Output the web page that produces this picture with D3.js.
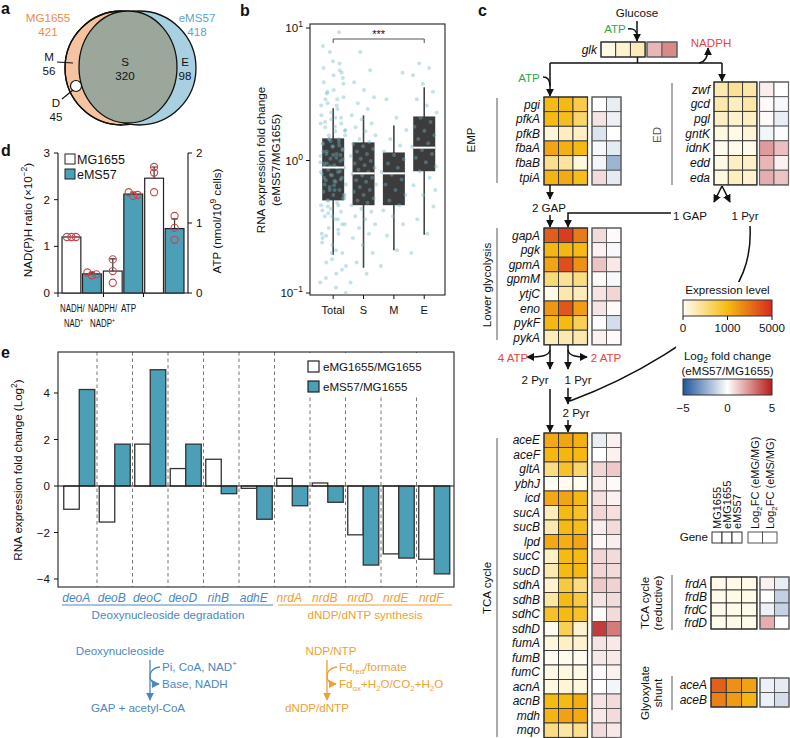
<!DOCTYPE html>
<html><head><meta charset="utf-8">
<script src="https://cdn.jsdelivr.net/npm/d3@7"></script>
<style>body{margin:0;background:#fff}svg{font-family:"Liberation Sans",Arial,Helvetica,sans-serif}</style>
</head><body>
<script>
// ================= DATA =================
// panel a
const vennSets = ["MG1655", "eMS57"];
const vennTotals = [421, 418];
const vennRegions = ["S", "M", "D", "E"];
const vennCounts = [320, 56, 45, 98];
// panel b
const bGroups = ["Total", "S", "M", "E"];
const bQ1 = [0.50, 0.46, 0.46, 0.83];
const bMed = [0.885, 0.80, 0.80, 1.25];
const bQ3 = [1.47, 1.37, 1.15, 2.15];
const bLo = [0.194, 0.155, 0.21, 0.275];
const bHi = [2.48, 2.19, 1.84, 3.57];
const bPtsS = [0.12,0.14,0.17,0.2,0.23,0.26,0.28,0.31,0.33,0.36,0.38,0.41,0.43,0.46,0.48,0.5,0.52,0.55,0.58,0.6,0.63,0.66,0.69,0.71,0.74,0.77,0.79,0.82,0.85,0.88,0.92,0.95,0.99,1.03,1.08,1.12,1.17,1.22,1.28,1.33,1.38,1.45,1.55,1.66,1.78,1.9,2.05,2.2,2.45,2.7,3.0,3.4,3.9,4.8,6.6];
const bPtsM = [0.16,0.21,0.27,0.33,0.38,0.42,0.46,0.5,0.55,0.6,0.66,0.72,0.78,0.82,0.88,0.95,1.02,1.1,1.17,1.3,1.45,1.7,2.1,2.9,4.6];
const bPtsE = [0.2,0.28,0.36,0.45,0.55,0.65,0.74,0.83,0.9,0.97,1.05,1.12,1.2,1.27,1.35,1.45,1.55,1.68,1.8,1.95,2.1,2.3,2.6,2.9,3.3,3.8,4.4,5.0,5.4,0.6];
const bPtsOther = [0.1,0.11,0.13,0.15,0.18,0.24,0.3,0.4,0.52,0.7,0.9,1.1,1.4,1.9,2.6,3.2,4.2,5.6,7.3,9.3];
const bPtsTotal = bPtsS.concat(bPtsM, bPtsE, bPtsOther);
const bYTicks = [0.1, 1, 10];
// panel d
const dGroups = ["NADH/NAD+", "NADPH/NADP+", "ATP"];
const dStrains = ["MG1655", "eMS57"];
const dMG = [1.2, 0.47, 1.64];
const dEMS = [0.41, 2.12, 0.92];
const dMGerr = [0, 0.26, 0.16];
const dEMSerr = [0.03, 0.04, 0.14];
const dMGpts = [[1.2, 1.2, 1.2], [0.72, 0.22, 0.47], [1.8, 1.72, 1.44]];
const dEMSpts = [[0.44, 0.38, 0.4], [2.16, 2.08, 2.1], [1.1, 0.93, 0.76]];
// panel e
const eGenes = ["deoA","deoB","deoC","deoD","rihB","adhE","nrdA","nrdB","nrdD","nrdE","nrdF"];
const eSeries = ["eMG1655/MG1655", "eMS57/MG1655"];
const eMG = [-1.0, -1.55, 1.8, 0.75, 1.15, -0.1, 0.33, 0.13, -2.1, -2.92, -3.15];
const eMS = [4.15, 1.8, 5.0, 1.8, -0.33, -1.43, -0.85, -0.7, -3.4, -3.1, -3.78];
const eTicks = [-4, -2, 0, 2, 4];
// panel c
const samples = ["MG1655", "eMG1655", "eMS57"];
const fcCols = ["Log2FC (eMG/MG)", "Log2FC (eMS/MG)"];
const glkGenes = ["glk"];
const glkExpr = [[60, 160, 260]];
const glkFC = [[1.6, 2.6]];
const empGenes = ["pgi","pfkA","pfkB","fbaA","fbaB","tpiA"];
const empExpr = [[1000,1050,750],[1000,950,600],[120,220,200],[1600,1300,1000],[450,380,80],[1200,1450,950]];
const empFC = [[0,-0.5],[0.6,-0.4],[-0.8,0],[-0.2,-0.6],[-0.3,-2.2],[0.8,-0.6]];
const edGenes = ["zwf","gcd","pgl","gntK","idnK","edd","eda"];
const edExpr = [[300,420,330],[320,230,330],[200,170,210],[70,50,120],[20,30,40],[60,210,190],[80,230,160]];
const edFC = [[0.4,0],[0.1,-0.2],[0.1,-0.5],[-0.3,-0.1],[2.2,1.4],[1.6,0.3],[1.8,1.3]];
const lowGenes = ["gapA","pgk","gpmA","gpmM","ytjC","eno","pykF","pykA"];
const lowExpr = [[3600,4500,2800],[1150,1100,1000],[1600,4000,2200],[550,420,500],[50,320,260],[2000,3800,1800],[1100,1000,700],[250,300,320]];
const lowFC = [[0.8,0.1],[0.3,-0.2],[1.3,0.5],[0.1,-0.2],[0.6,0.9],[0.6,0.1],[-0.1,-1.0],[0.3,0.1]];
const tcaGenes = ["aceE","aceF","gltA","ybhJ","icd","sucA","sucB","lpd","sucC","sucD","sdhA","sdhB","sdhC","sdhD","fumA","fumB","fumC","acnA","acnB","mdh","mqo"];
const tcaExpr = [[1500,1600,1300],[1100,1150,1050],[500,900,600],[10,20,15],[1500,1600,1100],[250,1000,900],[300,1000,950],[1500,1300,1600],[200,1000,1000],[300,1000,1050],[150,800,500],[350,1000,800],[900,1000,900],[20,700,150],[100,200,150],[20,30,20],[60,80,60],[80,120,100],[1000,1000,1400],[1200,1700,1500],[500,350,450]];
const tcaFC = [[-0.5,0.3],[0,0.3],[0.9,1.2],[0.4,0.1],[0.7,0.3],[0.9,0.7],[0.4,0.8],[0.2,0.4],[0.9,0.8],[0.9,0.8],[1.2,1.0],[0.6,0.8],[0.1,0.8],[4.3,2.9],[0.6,0.5],[0.5,0.5],[0.1,0.3],[0,-0.3],[0.6,0.8],[0.5,0.8],[0.8,0.5]];
const frdGenes = ["frdA","frdB","frdC","frdD"];
const frdExpr = [[40,50,45],[40,50,45],[35,55,40],[30,60,30]];
const frdFC = [[0.3,-0.5],[0,-1.4],[-0.4,-1.3],[1.8,0]];
const glxGenes = ["aceA","aceB"];
const glxExpr = [[3500,2200,1700],[2600,1900,1200]];
const glxFC = [[-0.4,-0.6],[-0.4,-1.0]];
const exprLegendTicks = [0, 1000, 5000];
const fcLegendTicks = [-5, 0, 5];

// ================= DRAW =================
const FS = 11.6;
const TEAL = "#4b9fb7";
const svg = d3.select("body").append("svg").attr("width", 790).attr("height", 738);
const defs = svg.append("defs");
function mk(id, color) {
  defs.append("marker").attr("id", id).attr("viewBox", "0 0 10 10").attr("refX", 9).attr("refY", 5)
    .attr("markerWidth", 8).attr("markerHeight", 8).attr("markerUnits", "userSpaceOnUse").attr("orient", "auto")
    .append("path").attr("d", "M0,0L10,5L0,10z").attr("fill", color);
}
mk("ak", "#111"); mk("ab", "#4a87c4"); mk("ao", "#f0a030");

function txt(x, y, s, o = {}) {
  const t = svg.append("text").attr("x", x).attr("y", y).attr("font-size", o.fs || FS)
    .attr("fill", o.fill || "#111").attr("text-anchor", o.anchor || "start");
  if (o.italic) t.attr("font-style", "italic");
  if (o.bold) t.attr("font-weight", "bold");
  if (o.rot) t.attr("transform", `rotate(${o.rot},${x},${y})`);
  if (o.sx) t.attr("x", 0).attr("y", 0).attr("transform", `translate(${x},${y}) scale(${o.sx},1)`);
  t.html(s);
  return t;
}
function line(d, o = {}) {
  const p = svg.append("path").attr("d", d).attr("fill", "none").attr("stroke", o.stroke || "#111").attr("stroke-width", o.sw || 1.5);
  if (o.arrow) p.attr("marker-end", `url(#${o.arrow})`);
  if (o.dash) p.attr("stroke-dasharray", o.dash);
  return p;
}
// panel labels
[["a",1,14],["b",240,16],["c",478,16],["d",1,156],["e",1,358]].forEach(([l,x,y]) => txt(x, y, l, {bold: true, fs: 16}));

// ---------- panel a ----------
svg.append("ellipse").attr("cx", 122).attr("cy", 68).attr("rx", 57).attr("ry", 57).attr("fill", "#f6c3a0").attr("stroke", "#111").attr("stroke-width", 1.3);
svg.append("ellipse").attr("cx", 139).attr("cy", 68).attr("rx", 57).attr("ry", 57).attr("fill", "#a9d0e1").attr("stroke", "#111").attr("stroke-width", 1.3);
svg.append("path").attr("d", "M122,11 A57,57 0 0,0 122,125").attr("fill", "none").attr("stroke", "#111").attr("stroke-width", 1.3);
svg.append("ellipse").attr("cx", 128).attr("cy", 67).attr("rx", 49).attr("ry", 56).attr("fill", "#9ca79c").attr("stroke", "#111").attr("stroke-width", 1.3);
svg.append("circle").attr("cx", 76).attr("cy", 86).attr("r", 5.5).attr("fill", "#fff").attr("stroke", "#111").attr("stroke-width", 1.2);
line("M57,62L73,63", {sw: 1.1});
line("M62,99L73,90", {sw: 1.1});
txt(48, 22, vennSets[0], {anchor: "middle", fill: "#ec8a4c"});
txt(48, 36, vennTotals[0], {anchor: "middle", fill: "#ec8a4c"});
txt(197, 22, vennSets[1], {anchor: "middle", fill: "#5aa6c8"});
txt(197, 36, vennTotals[1], {anchor: "middle", fill: "#5aa6c8"});
const vennPos = [[125, 66], [49, 61], [56, 107], [185, 66]];
vennRegions.forEach((r, i) => {
  txt(vennPos[i][0], vennPos[i][1], r, {anchor: "middle"});
  txt(vennPos[i][0], vennPos[i][1] + 14, vennCounts[i], {anchor: "middle"});
});

// ---------- panel b ----------
const yB = d3.scaleLog().domain([0.1, 10]).range([293, 28]);
const xB = d3.scaleBand().domain(bGroups).range([318, 439.4]);
const cB = g => xB(g) + xB.bandwidth() / 2;
svg.append("rect").attr("x", 310).attr("y", 24).attr("width", 135).attr("height", 271).attr("fill", "none").attr("stroke", "#222").attr("stroke-width", 1.1);
bYTicks.forEach((v, i) => {
  line(`M306,${yB(v)}H310`, {sw: 1});
  const e = [-1, 0, 1][i];
  txt(303, yB(v) + 4, `10<tspan dy="-5" font-size="8.5">${e < 0 ? "\u22121" : e}</tspan>`, {anchor: "end"});
});
const bPtsAll = [bPtsTotal, bPtsS, bPtsM, bPtsE];
bGroups.forEach((g, i) => {
  const c = cB(g);
  line(`M${c},${yB(bLo[i])}V${yB(bHi[i])}`, {stroke: "#444", sw: 1.6});
  svg.append("rect").attr("x", c - 11).attr("y", yB(bQ3[i])).attr("width", 22).attr("height", yB(bQ1[i]) - yB(bQ3[i])).attr("fill", "#3c3c3c");
  line(`M${c},295V299`, {sw: 1});
  txt(c, 314, g, {anchor: "middle", fs: 11});
});
bGroups.forEach((g, i) => {
  const c = cB(g);
  svg.append("g").selectAll("circle").data(bPtsAll[i]).join("circle")
    .attr("cx", (d, k) => c + (((k * 0.6180339887) % 1) - 0.5) * 26)
    .attr("cy", d => yB(d)).attr("r", 2).attr("fill", "#6db3c9").attr("opacity", 0.4);
});
bGroups.forEach((g, i) => {
  const c = cB(g);
  line(`M${c - 11},${yB(bMed[i])}H${c + 11}`, {stroke: "#fff", sw: 2});
});
line(`M${cB("Total")},43V39H${cB("E")}V43`, {stroke: "#555", sw: 1});
txt((cB("Total") + cB("E")) / 2, 38, "***", {anchor: "middle", fs: 11});
txt(265, 160, "RNA expression fold change", {anchor: "middle", rot: -90});
txt(280, 160, "(eMS57/MG1655)", {anchor: "middle", rot: -90});

// ---------- panel d ----------
const yD = d3.scaleLinear().domain([0, 3]).range([293, 153]);
const yD2 = d3.scaleLinear().domain([0, 2]).range([293, 153]);
const xD = d3.scaleBand().domain(dGroups).range([61, 185]);
const xDi = d3.scaleBand().domain(dStrains).range([0, xD.bandwidth()]).paddingInner(0.08).paddingOuter(0.05);
line("M58,153V293H188V153", {sw: 1.1});
d3.range(0, 4).forEach(v => { line(`M54,${yD(v)}H58`, {sw: 1}); txt(50, yD(v) + 4, v, {anchor: "end"}); });
d3.range(0, 3).forEach(v => { line(`M188,${yD2(v)}H192`, {sw: 1}); txt(196, yD2(v) + 4, v); });
[58, 103.5, 143.5].forEach(x => line(`M${x},293V297`, {sw: 1}));
dGroups.forEach((g, i) => {
  const ys = i === 2 ? yD2 : yD;
  [[dMG, dMGerr, dMGpts, "#fff"], [dEMS, dEMSerr, dEMSpts, TEAL]].forEach(([vals, errs, pts, fill], s) => {
    const x = xD(g) + xDi(dStrains[s]);
    const w = xDi.bandwidth();
    const cx = x + w / 2;
    if (errs[i] > 0) line(`M${cx},${ys(vals[i])}V${ys(vals[i] + errs[i])}M${cx - 3},${ys(vals[i] + errs[i])}H${cx + 3}`, {sw: 1.2, stroke: "#333"});
    svg.append("rect").attr("x", x).attr("y", ys(vals[i])).attr("width", w).attr("height", 293 - ys(vals[i]))
      .attr("fill", fill).attr("stroke", "#222").attr("stroke-width", 1.2);
    const sorted = pts[i];
    sorted.forEach((p, k) => {
      let dx = 0;
      const dup = sorted.filter((q, m) => m !== k && Math.abs(ys(q) - ys(p)) < 5);
      if (dup.length >= 2) dx = (k - 1) * 4.5; else if (dup.length === 1) dx = (k % 2 ? 3 : -3);
      svg.append("circle").attr("cx", cx + dx).attr("cy", ys(p)).attr("r", 3.6).attr("fill", "none").attr("stroke", "#c8464a").attr("stroke-width", 1.1);
    });
  });
});
svg.append("rect").attr("x", 65).attr("y", 154).attr("width", 10).attr("height", 10).attr("fill", "#fff").attr("stroke", "#222");
svg.append("rect").attr("x", 65).attr("y", 169).attr("width", 10).attr("height", 10).attr("fill", TEAL).attr("stroke", "#222");
txt(77, 164, dStrains[0], {fs: 12.5});
txt(77, 179, dStrains[1], {fs: 12.5});
txt(60, 312, "NADH/", {sx: 0.72, fs: 11});
txt(64, 327, "NAD<tspan dy='-4' font-size='7'>+</tspan>", {sx: 0.7, fs: 11});
txt(88, 312, "NADPH/", {sx: 0.7, fs: 11});
txt(90, 327, "NADP<tspan dy='-4' font-size='7'>+</tspan>", {sx: 0.72, fs: 11});
txt(121, 312, "ATP", {sx: 0.74, fs: 11});
txt(32, 220, "NAD(P)H ratio (\u00d710<tspan dy='-5' font-size='8.5'>\u22122</tspan><tspan dy='5'>)</tspan>", {anchor: "middle", rot: -90});
txt(221, 221, "ATP (nmol/10<tspan dy='-5' font-size='8.5'>9</tspan><tspan dy='5'> cells)</tspan>", {anchor: "middle", rot: -90});

// ---------- panel e ----------
const yE = d3.scaleLinear().domain([-4, 4]).range([579, 393]);
const xE = d3.scaleBand().domain(eGenes).range([61.5, 452]);
const cE = g => xE(g) + xE.bandwidth() / 2;
eGenes.forEach((g, i) => { if (i > 0) line(`M${xE(g)},352V587`, {stroke: "#777", sw: 1, dash: "3.5,3"}); });
svg.append("rect").attr("x", 300).attr("y", 353).attr("width", 153).attr("height", 43).attr("fill", "#fff");
eGenes.forEach((g, i) => {
  const c = cE(g);
  [[eMG, "#fff", c - 15.5], [eMS, TEAL, c]].forEach(([vals, fill, x]) => {
    const v = vals[i];
    svg.append("rect").attr("x", x).attr("y", yE(Math.max(0, v))).attr("width", 15.5).attr("height", Math.abs(yE(v) - yE(0)))
      .attr("fill", fill).attr("stroke", "#333").attr("stroke-width", 1.3);
  });
});
line(`M58,${yE(0)}H454`, {sw: 1.2});
svg.append("rect").attr("x", 58).attr("y", 352).attr("width", 396).attr("height", 235).attr("fill", "none").attr("stroke", "#222").attr("stroke-width", 1.1);
eTicks.forEach(v => {
  line(`M54,${yE(v)}H58`, {sw: 1});
  txt(50, yE(v) + 4, v < 0 ? "\u2212" + (-v) : v, {anchor: "end"});
});
svg.append("rect").attr("x", 308).attr("y", 361).attr("width", 11).attr("height", 11).attr("fill", "#fff").attr("stroke", "#222").attr("stroke-width", 1.2);
svg.append("rect").attr("x", 308).attr("y", 381).attr("width", 11).attr("height", 11).attr("fill", TEAL).attr("stroke", "#222").attr("stroke-width", 1.2);
txt(323, 371, eSeries[0]);
txt(323, 391, eSeries[1]);
txt(22, 470, "RNA expression fold change (Log<tspan dy='-5' font-size='8.5'>2</tspan><tspan dy='5'>)</tspan>", {anchor: "middle", rot: -90});
const BLUE = "#4a87c4", ORANGE = "#f0a030";
eGenes.forEach((g, i) => txt(cE(g) - 3, 602, g, {anchor: "middle", italic: true, fill: i < 6 ? BLUE : ORANGE, fs: 12}));
line("M62,605H273", {stroke: BLUE, sw: 1.2});
line("M278,605H452", {stroke: ORANGE, sw: 1.2});
txt(168, 619, "Deoxynucleoside degradation", {anchor: "middle", fill: BLUE});
txt(365, 619, "dNDP/dNTP synthesis", {anchor: "middle", fill: ORANGE});
// pathway sketches
txt(120, 655, "Deoxynucleoside", {anchor: "middle", fill: BLUE});
line("M150,660V700", {stroke: BLUE, sw: 1.3, arrow: "ab"});
line("M160,667C151,668 150,674 150,676C150,680 152,684 159,684", {stroke: BLUE, sw: 1.3, arrow: "ab"});
txt(162, 671, "Pi, CoA, NAD<tspan dy='-5' font-size='8'>+</tspan>", {fill: BLUE});
txt(162, 688, "Base, NADH", {fill: BLUE});
txt(138, 712, "GAP + acetyl-CoA", {anchor: "middle", fill: BLUE});
txt(331, 655, "NDP/NTP", {anchor: "middle", fill: ORANGE});
line("M327,660V700", {stroke: ORANGE, sw: 1.3, arrow: "ao"});
line("M337,667C328,668 327,674 327,676C327,680 329,684 336,684", {stroke: ORANGE, sw: 1.3, arrow: "ao"});
txt(339, 671, "Fd<tspan dy='3' font-size='8'>red</tspan><tspan dy='-3'>/formate</tspan>", {fill: ORANGE});
txt(339, 688, "Fd<tspan dy='3' font-size='8'>ox</tspan><tspan dy='-3'>+H</tspan><tspan dy='3' font-size='8'>2</tspan><tspan dy='-3'>O/CO</tspan><tspan dy='3' font-size='8'>2</tspan><tspan dy='-3'>+H</tspan><tspan dy='3' font-size='8'>2</tspan><tspan dy='-3'>O</tspan>", {fill: ORANGE});
txt(317, 712, "dNDP/dNTP", {anchor: "middle", fill: ORANGE});

// ---------- panel c ----------
const exprColor = d3.scaleLinear().domain([0, 1000, 5000]).range(["#fffdf3", "#f6bb12", "#d62b1f"]);
const fcColor = d3.scaleLinear().domain([-5, 0, 5]).range(["#21569a", "#ffffff", "#b71c1c"]);
function heat(genes, expr, fc, o) {
  const g = svg.append("g");
  const y = d3.scaleBand().domain(genes).range([o.y0, o.y0 + genes.length * o.rh]);
  const xe = d3.scaleBand().domain(samples).range([o.x0, o.x0 + 3 * o.cw]);
  const xf = d3.scaleBand().domain(fcCols).range([o.fx0, o.fx0 + 2 * o.fcw]);
  genes.forEach((gn, i) => {
    g.append("g").selectAll("rect").data(expr[i]).join("rect")
      .attr("x", (d, j) => xe(samples[j])).attr("y", y(gn)).attr("width", xe.bandwidth()).attr("height", y.bandwidth())
      .attr("fill", d => exprColor(d)).attr("stroke", "#333").attr("stroke-width", 0.9);
    g.append("g").selectAll("rect").data(fc[i]).join("rect")
      .attr("x", (d, j) => xf(fcCols[j])).attr("y", y(gn)).attr("width", xf.bandwidth()).attr("height", y.bandwidth())
      .attr("fill", d => fcColor(d)).attr("stroke", "#555").attr("stroke-width", 0.9);
    txt(o.x0 - 4, y(gn) + y.bandwidth() / 2 + 4.2, gn, {anchor: "end", italic: true, fs: 12});
  });
  g.append("rect").attr("x", o.x0).attr("y", o.y0).attr("width", 3 * o.cw).attr("height", genes.length * o.rh).attr("fill", "none").attr("stroke", "#333").attr("stroke-width", 1.2);
  g.append("rect").attr("x", o.fx0).attr("y", o.y0).attr("width", 2 * o.fcw).attr("height", genes.length * o.rh).attr("fill", "none").attr("stroke", "#666").attr("stroke-width", 1.2);
}
heat(glkGenes, glkExpr, glkFC, {x0: 601, cw: 14.7, fx0: 647, fcw: 15, y0: 42, rh: 15});
heat(empGenes, empExpr, empFC, {x0: 544, cw: 14.5, fx0: 592, fcw: 14.5, y0: 97, rh: 14.65});
heat(edGenes, edExpr, edFC, {x0: 714, cw: 14.3, fx0: 759.5, fcw: 14.5, y0: 82, rh: 14.7});
heat(lowGenes, lowExpr, lowFC, {x0: 544, cw: 14.5, fx0: 592, fcw: 14.5, y0: 228, rh: 14.6});
heat(tcaGenes, tcaExpr, tcaFC, {x0: 544, cw: 14.5, fx0: 592, fcw: 14.5, y0: 433, rh: 14.5});
heat(frdGenes, frdExpr, frdFC, {x0: 711, cw: 15.3, fx0: 760, fcw: 14.5, y0: 577, rh: 13});
heat(glxGenes, glxExpr, glxFC, {x0: 711, cw: 15.3, fx0: 760, fcw: 14.5, y0: 678, rh: 14.5});
// gene key
txt(708, 541, "Gene", {anchor: "end"});
const xk = d3.scaleBand().domain(samples).range([712, 742]);
const xkf = d3.scaleBand().domain(fcCols).range([748, 777]);
samples.forEach(s => svg.append("rect").attr("x", xk(s)).attr("y", 532).attr("width", xk.bandwidth()).attr("height", 11).attr("fill", "#fff").attr("stroke", "#333"));
fcCols.forEach(s => svg.append("rect").attr("x", xkf(s)).attr("y", 532).attr("width", xkf.bandwidth()).attr("height", 11).attr("fill", "#fff").attr("stroke", "#555"));
samples.forEach(s => txt(xk(s) + xk.bandwidth() / 2 + 4, 529, s, {rot: -90, fs: 11}));
fcCols.forEach(s => txt(xkf(s) + xkf.bandwidth() / 2 + 4, 529, s.replace("Log2", "Log<tspan dy='3' font-size='8'>2</tspan><tspan dy='-3'>") + "</tspan>", {rot: -90, fs: 11}));
// group labels
txt(475, 140, "EMP", {anchor: "middle", rot: -90});
line("M497,98V183", {stroke: "#666", sw: 1.1});
txt(491, 285, "Lower glycolysis", {anchor: "middle", rot: -90});
line("M497,228V340", {stroke: "#666", sw: 1.1});
txt(491, 588, "TCA cycle", {anchor: "middle", rot: -90});
line("M497,438V737", {stroke: "#666", sw: 1.1});
txt(661, 135, "ED", {anchor: "middle", rot: -90, fill: "#555"});
line("M672,83V185", {stroke: "#666", sw: 1.1});
txt(649, 603, "TCA cycle", {anchor: "middle", rot: -90});
txt(662, 603, "(reductive)", {anchor: "middle", rot: -90});
line("M672,575V630", {stroke: "#666", sw: 1.1});
txt(649, 693, "Glyoxylate", {anchor: "middle", rot: -90});
txt(662, 693, "shunt", {anchor: "middle", rot: -90});
line("M672,676V710", {stroke: "#666", sw: 1.1});
// pathway arrows
txt(637, 17, "Glucose", {anchor: "middle"});
line("M637,21V41", {arrow: "ak"});
txt(615, 33, "ATP", {anchor: "middle", fill: "#2fa84a"});
line("M628,29C634,28 637,31 637,36");
line("M637.5,57V63M550,63H722");
line("M550,63V96", {arrow: "ak"});
txt(529, 82, "ATP", {anchor: "middle", fill: "#2fa84a"});
line("M543,77C548,77 550,80 550,86");
line("M722,63V81", {arrow: "ak"});
line("M699,63C705,62 708,57 708,48", {arrow: "ak"});
txt(711, 47, "NADPH", {anchor: "middle", fill: "#e8453c"});
line("M550,185V199", {arrow: "ak"});
txt(549, 212, "2 GAP", {anchor: "middle"});
line("M550,215V227", {arrow: "ak"});
line("M722,186L714,202", {arrow: "ak"});
line("M722,186L730,202", {arrow: "ak"});
txt(690, 220, "1 GAP", {anchor: "middle"});
line("M671,213H568V227", {arrow: "ak"});
txt(745, 220, "1 Pyr", {anchor: "middle"});
line("M750,226C752,262 740,285 720,310S640,375 570,401");
// legends (white backing)
svg.append("rect").attr("x", 676).attr("y", 282).attr("width", 114).attr("height", 132).attr("fill", "#fff");
const lgX = d3.scaleLinear().domain(exprLegendTicks).range([683, 727.5, 772]);
const gr1 = defs.append("linearGradient").attr("id", "g1");
d3.range(0, 1.0001, 0.05).forEach(t => {
  const v = lgX.invert(683 + t * 89);
  gr1.append("stop").attr("offset", t).attr("stop-color", exprColor(v));
});
txt(727.5, 294, "Expression level", {anchor: "middle"});
svg.append("rect").attr("x", 683).attr("y", 300).attr("width", 89).attr("height", 16).attr("fill", "url(#g1)").attr("stroke", "#333").attr("stroke-width", 1);
exprLegendTicks.forEach(v => { line(`M${lgX(v)},316V320`, {sw: 1}); txt(lgX(v), 332, v, {anchor: "middle"}); });
const fcX = d3.scaleLinear().domain([-5, 5]).range([683, 772]);
const gr2 = defs.append("linearGradient").attr("id", "g2");
d3.range(0, 1.0001, 0.05).forEach(t => gr2.append("stop").attr("offset", t).attr("stop-color", fcColor(-5 + 10 * t)));
txt(727.5, 360, "Log<tspan dy='3' font-size='8.5'>2</tspan><tspan dy='-3'> fold change</tspan>", {anchor: "middle"});
txt(727.5, 375, "(eMS57/MG1655)", {anchor: "middle"});
svg.append("rect").attr("x", 683).attr("y", 379).attr("width", 89).attr("height", 16).attr("fill", "url(#g2)").attr("stroke", "#333").attr("stroke-width", 1);
fcLegendTicks.forEach(v => txt(fcX(v), 412, v < 0 ? "\u2212" + (-v) : v, {anchor: "middle"}));
// lower glycolysis outputs
line("M550,345V369", {arrow: "ak"});
line("M550,350C549,356 542,357 527,357", {arrow: "ak"});
txt(513, 362, "4 ATP", {anchor: "middle", fill: "#e8453c"});
line("M568,345V369", {arrow: "ak"});
line("M568,350C569,356 576,357 587,357", {arrow: "ak"});
txt(606, 362, "2 ATP", {anchor: "middle", fill: "#e8453c"});
txt(535, 384, "2 Pyr", {anchor: "middle"});
txt(578, 384, "1 Pyr", {anchor: "middle"});
line("M550,389V432", {arrow: "ak"});
line("M568,388V404", {arrow: "ak"});
txt(576, 417, "2 Pyr", {anchor: "middle"});
line("M568,420V432", {arrow: "ak"});
</script>
</body></html>
